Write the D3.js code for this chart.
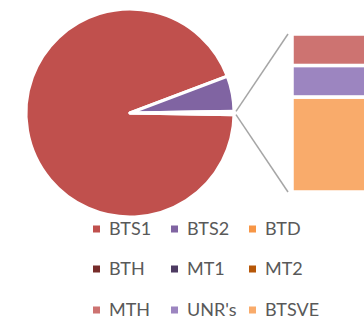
<!DOCTYPE html>
<html>
<head>
<meta charset="utf-8">
<script src="https://cdn.jsdelivr.net/npm/d3@7"></script>
<style>
  html, body { margin: 0; padding: 0; background: #fff; }
  svg { display: block; }
</style>
</head>
<body>
<svg id="chart" width="364" height="320"></svg>
<script>
// Share of each category (percent)
const categories = ["BTS1", "BTS2", "BTD", "BTH", "MT1", "MT2", "MTH", "UNR's", "BTSVE"];
const values     = [94.0, 5.5, 0, 0, 0, 0, 0.1, 0.1, 0.3];
const colors     = ["#c0504d", "#8064a2", "#f79646", "#772c2a", "#4d3b62", "#b65708", "#cd7371", "#9c85c0", "#f9ab6b"];
// The last three categories are split out into the stacked bar
const secondaryCount = 3;

const svg = d3.select("#chart");

const primary = categories.slice(0, categories.length - secondaryCount).map((c, i) => ({name: c, value: values[i], color: colors[i]}));
const secondary = categories.slice(categories.length - secondaryCount).map((c, i) => {
  const k = categories.length - secondaryCount + i;
  return {name: c, value: values[k], color: colors[k]};
});
const otherTotal = d3.sum(secondary, d => d.value);

// Pie: visible primary slices plus the combined "Other" slice
const pieData = primary.filter(d => d.value > 0).concat([{name: "Other", value: otherTotal, color: "#ffffff", other: true}]);
const total = d3.sum(pieData, d => d.value);
const otherAngle = 2 * Math.PI * otherTotal / total;

const cx = 130, cy = 113, r = 104;
const pie = d3.pie().sort(null).value(d => d.value)
  .startAngle(Math.PI / 2 + otherAngle / 2)
  .endAngle(Math.PI / 2 + otherAngle / 2 + 2 * Math.PI);
const arcs = pie(pieData);
const arc = d3.arc().innerRadius(0).outerRadius(r);

const gPie = svg.append("g").attr("transform", `translate(${cx},${cy})`);
gPie.selectAll("path").data(arcs).join("path")
  .attr("d", arc)
  .attr("fill", d => d.data.color)
  .attr("stroke", "#ffffff")
  .attr("stroke-width", 3)
  .attr("stroke-linejoin", "round");

// Stacked bar for the split-out categories
const barX = 292, barW = 90;
const y = d3.scaleLinear().domain([0, otherTotal]).range([34, 192]);
let acc = 0;
const stacked = secondary.map(d => { const s = {...d, y0: acc, y1: acc + d.value}; acc += d.value; return s; });

svg.append("g").selectAll("rect").data(stacked).join("rect")
  .attr("x", barX)
  .attr("y", d => y(d.y0))
  .attr("width", barW)
  .attr("height", d => y(d.y1) - y(d.y0))
  .attr("fill", d => d.color)
  .attr("stroke", "#ffffff")
  .attr("stroke-width", 3.5);

// Connector lines from the "Other" slice to the bar
const oArc = arcs.find(a => a.data.other);
const edge = a => [cx + (r + 2) * Math.sin(a), cy - (r + 2) * Math.cos(a)];
const pTop = edge(oArc.startAngle), pBot = edge(oArc.endAngle);
const lineG = svg.append("g").attr("stroke", "#a6a6a6").attr("stroke-width", 1.5).attr("fill", "none");
lineG.append("line").attr("x1", pTop[0]).attr("y1", pTop[1]).attr("x2", barX - 4).attr("y2", y(0));
lineG.append("line").attr("x1", pBot[0]).attr("y1", pBot[1]).attr("x2", barX - 4).attr("y2", y(otherTotal));

// Legend: 3 columns x 3 rows
const colX = [93, 171, 249];
const rowY = [229, 269, 310];
const legend = svg.append("g").selectAll("g").data(categories).join("g")
  .attr("transform", (d, i) => `translate(${colX[i % 3]},${rowY[Math.floor(i / 3)]})`);
legend.append("rect")
  .attr("x", 0).attr("y", -3.5).attr("width", 7).attr("height", 7)
  .attr("fill", (d, i) => colors[i]);
legend.append("text")
  .attr("x", 16).attr("y", 0).attr("dy", "0.36em")
  .attr("font-family", "Lato, 'Open Sans', sans-serif")
  .attr("font-size", 18)
  .attr("fill", "#595959")
  .text(d => d);
</script>
</body>
</html>
